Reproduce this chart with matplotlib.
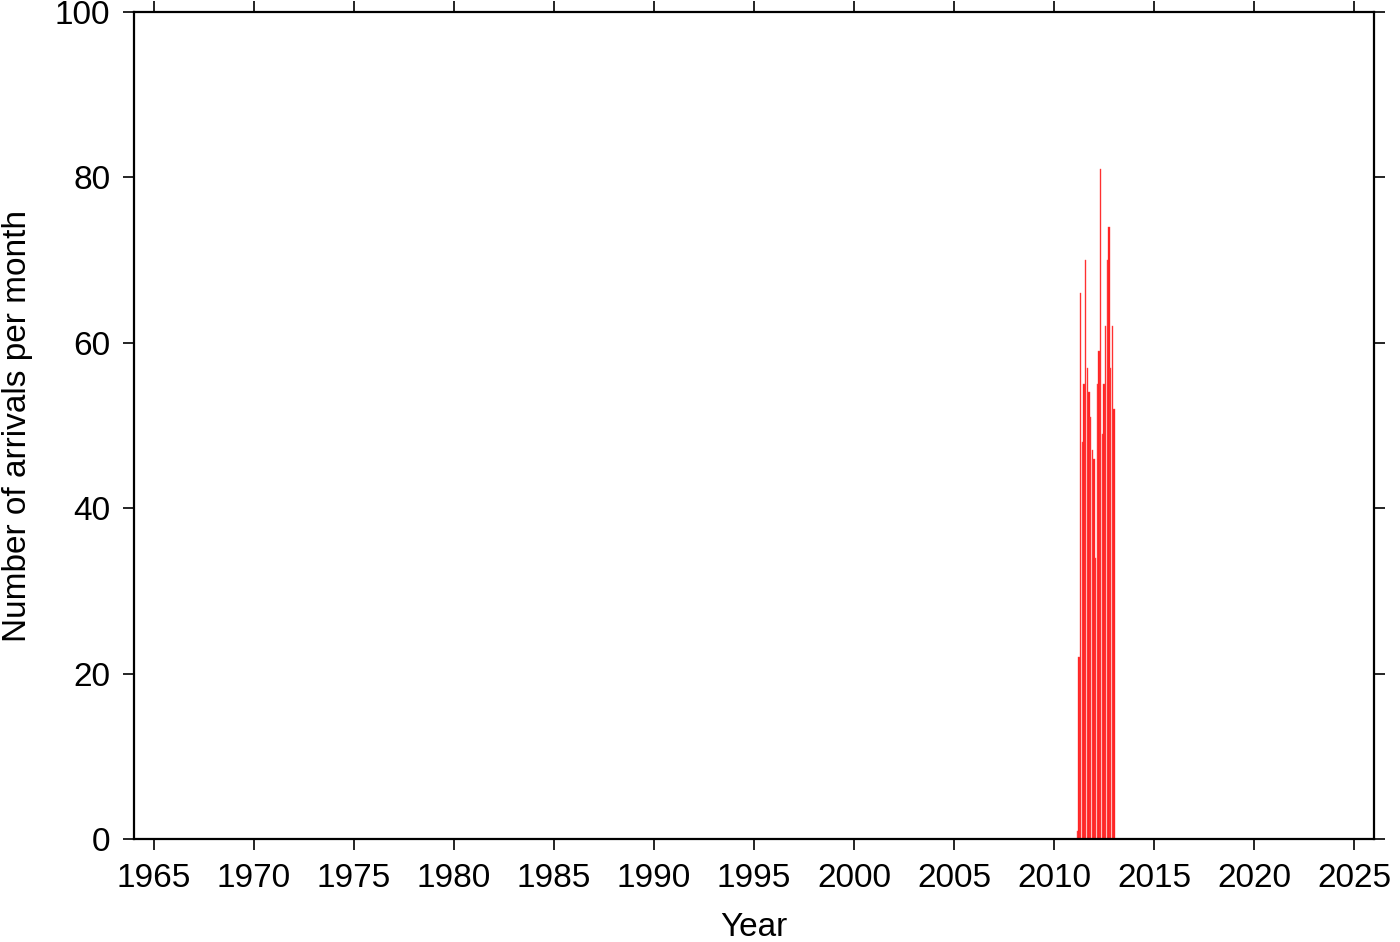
import numpy as np
import matplotlib
matplotlib.use("Agg")
import matplotlib.pyplot as plt

plt.rcParams["font.family"] = ["Liberation Sans", "DejaVu Sans"]

# monthly arrival counts, Feb 2011 .. Dec 2012
years = [2011] * 11 + [2012] * 12
months = list(range(2, 13)) + list(range(1, 13))
counts = [1, 22, 66, 48, 55, 70, 57, 54, 51, 47, 46,
          34, 55, 59, 81, 49, 55, 62, 70, 74, 57, 62, 52]

xticks = list(range(1965, 2026, 5))
yticks = [0, 20, 40, 60, 80, 100]

x = np.array(years) + np.array(months) / 12.0

fig = plt.figure(figsize=(14, 9.42), dpi=100)
ax = fig.add_axes([134 / 1400, 103 / 942, 1240 / 1400, 827 / 942])

ax.bar(x, counts, width=1 / 12, color="#ff1a1a", edgecolor="#ff5050", linewidth=0.3)

ax.set_xlim(1964, 2026)
ax.set_ylim(0, 100)
ax.set_xticks(xticks)
ax.set_yticks(yticks)
ax.tick_params(direction="out", length=8, width=1.2, labelsize=24, pad=9,
               top=True, right=True, labeltop=False, labelright=False)
for s in ax.spines.values():
    s.set_linewidth(1.6)

ax.set_xlabel("Year", fontsize=24, labelpad=13)
ax.set_ylabel("Number of arrivals per month", fontsize=24, labelpad=16)

fig.savefig("out.png", dpi=100)
